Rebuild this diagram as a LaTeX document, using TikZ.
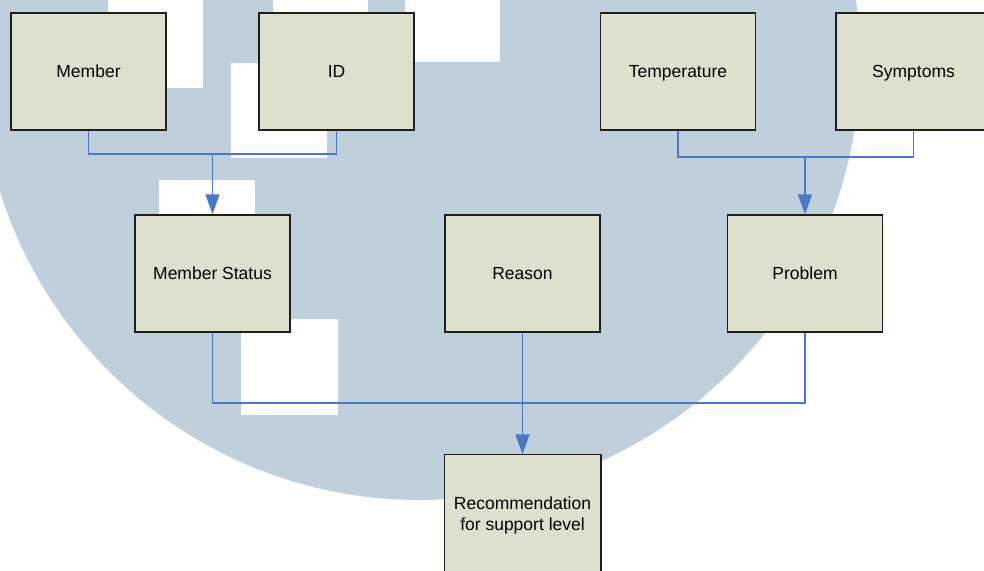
\documentclass[tikz,border=0pt]{standalone}
\usepackage{fontspec}
\setmainfont{Liberation Sans}
\usetikzlibrary{arrows.meta}
\definecolor{wmblue}{RGB}{192,207,220}
\definecolor{boxfill}{RGB}{221,224,204}
\definecolor{boxline}{RGB}{30,30,30}
\definecolor{linkblue}{RGB}{72,120,200}
\tikzset{
  entity/.style={draw=boxline, fill=boxfill, line width=1.5pt, minimum width=155pt, minimum height=117pt, inner sep=0pt, align=center, font=\fontsize{17.5}{21}\selectfont},
  oneline/.style={text height=12.5pt, text depth=0pt},
  link/.style={draw=linkblue, line width=1.8pt},
  arrowlink/.style={link, -{Triangle[length=20pt,width=14pt]}},
  wmsq/.style={fill=white, draw=none}
}
\begin{document}
\begin{tikzpicture}[x=1pt,y=-1pt]
\useasboundingbox (0,0) rectangle (984,570);
\clip (0,0) rectangle (984,570);
\fill[white] (0,0) rectangle (984,570);
% watermark
\fill[wmblue] (420,60) circle[radius=440];
\fill[wmsq] (108,-10) rectangle (203,88);
\fill[wmsq] (231,63) rectangle (327,158);
\fill[wmsq] (273,-10) rectangle (368,60);
\fill[wmsq] (405,-33) rectangle (500,62);
\fill[wmsq] (159,180) rectangle (255,275);
\fill[wmsq] (241,319) rectangle (338,415);
% nodes
\node[entity,oneline] (member) at (88.5,71.5) {Member};
\node[entity,oneline] (id) at (336.5,71.5) {ID};
\node[entity,oneline] (temp) at (678,71.5) {Temperature};
\node[entity,oneline] (symp) at (913.5,71.5) {Symptoms};
\node[entity,oneline] (mstatus) at (212.5,273.5) {Member Status};
\node[entity,oneline] (reason) at (522.5,273.5) {Reason};
\node[entity,oneline] (problem) at (805,273.5) {Problem};
\node[entity, draw=none, minimum height=121pt] (rec) at (522.5,515.5) {Recommendation\\for support level};
\draw[boxline, line width=1.5pt] (rec.south west) -- (rec.north west) -- (rec.north east) -- (rec.south east);
\coordinate (j1) at (212.5,154);
\coordinate (j2) at (805,157);
\coordinate (j3) at (522.5,403);
% connectors
\draw[link] (member.south) |- (j1);
\draw[link] (id.south) |- (j1);
\draw[arrowlink] (j1) -- (mstatus.north);
\draw[link] (temp.south) |- (j2);
\draw[link] (symp.south) |- (j2);
\draw[arrowlink] (j2) -- (problem.north);
\draw[link] (mstatus.south) |- (j3);
\draw[link] (problem.south) |- (j3);
\draw[arrowlink] (reason.south) -- (rec.north);
\end{tikzpicture}
\end{document}
